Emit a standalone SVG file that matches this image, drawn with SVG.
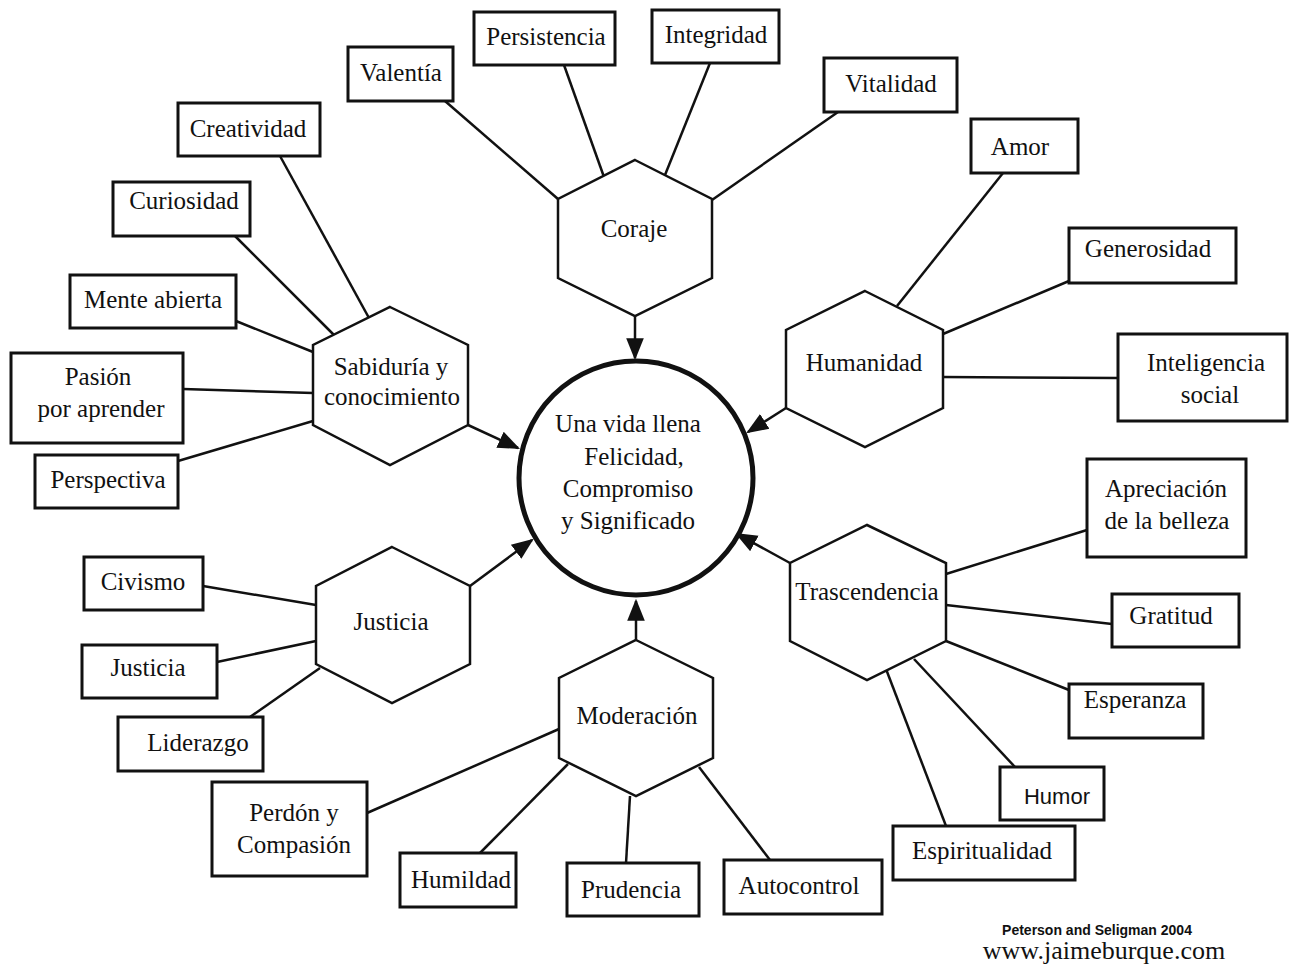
<svg xmlns="http://www.w3.org/2000/svg" width="1297" height="965" viewBox="0 0 1297 965">
<defs>
<style>
.box{fill:#fff;stroke:#111;stroke-width:3}
.hex{fill:#fff;stroke:#111;stroke-width:2.5}
.ln{stroke:#111;stroke-width:2.5;fill:none}
.t{font-family:"Liberation Serif","DejaVu Serif",serif;font-size:25px;fill:#111;text-anchor:middle}
.ts{font-family:"Liberation Sans Narrow","Liberation Sans",sans-serif;font-size:22px;fill:#111;text-anchor:middle}
</style>
<marker id="ahb" viewBox="0 0 10 10" refX="9" refY="5" markerWidth="22" markerHeight="22" markerUnits="userSpaceOnUse" orient="auto"><path d="M0,1 L10,5 L0,9 z" fill="#111"/></marker>
</defs>
<rect width="1297" height="965" fill="#fff"/>
<g id="connectors">
<line class="ln" x1="445" y1="101" x2="558" y2="199"/>
<line class="ln" x1="564" y1="65" x2="604" y2="177"/>
<line class="ln" x1="710" y1="63" x2="665" y2="175"/>
<line class="ln" x1="838" y1="112" x2="712" y2="200"/>
<line class="ln" x1="1003" y1="173" x2="897" y2="306"/>
<line class="ln" x1="1069" y1="281" x2="943" y2="334"/>
<line class="ln" x1="1118" y1="378" x2="943" y2="377"/>
<line class="ln" x1="1087" y1="530" x2="946" y2="574"/>
<line class="ln" x1="1112" y1="624" x2="946" y2="605"/>
<line class="ln" x1="1069" y1="690" x2="946" y2="641"/>
<line class="ln" x1="1015" y1="767" x2="914" y2="659"/>
<line class="ln" x1="946" y1="826" x2="886" y2="669"/>
<line class="ln" x1="770" y1="860" x2="699" y2="767"/>
<line class="ln" x1="626" y1="863" x2="630" y2="796"/>
<line class="ln" x1="480" y1="853" x2="568" y2="764"/>
<line class="ln" x1="367" y1="813" x2="559" y2="729"/>
<line class="ln" x1="250" y1="717" x2="320" y2="668"/>
<line class="ln" x1="217" y1="662" x2="316" y2="641"/>
<line class="ln" x1="203" y1="586" x2="316" y2="605"/>
<line class="ln" x1="178" y1="461" x2="313" y2="421"/>
<line class="ln" x1="183" y1="389" x2="313" y2="393"/>
<line class="ln" x1="236" y1="321" x2="313" y2="352"/>
<line class="ln" x1="235" y1="236" x2="334" y2="335"/>
<line class="ln" x1="280" y1="156" x2="369" y2="318"/>
<line class="ln" x1="635" y1="316" x2="635" y2="358" marker-end="url(#ahb)"/>
<line class="ln" x1="786" y1="408" x2="748" y2="432" marker-end="url(#ahb)"/>
<line class="ln" x1="790" y1="563" x2="737" y2="534" marker-end="url(#ahb)"/>
<line class="ln" x1="636" y1="640" x2="636" y2="601" marker-end="url(#ahb)"/>
<line class="ln" x1="470" y1="586" x2="532" y2="540" marker-end="url(#ahb)"/>
<line class="ln" x1="468" y1="425" x2="518" y2="448" marker-end="url(#ahb)"/>
</g>
<g id="center">
<circle cx="636" cy="478" r="117" fill="#fff" stroke="#111" stroke-width="5"/>
<text class="t" x="628" y="432">Una vida llena</text>
<text class="t" x="634" y="465">Felicidad,</text>
<text class="t" x="628" y="497">Compromiso</text>
<text class="t" x="628" y="529">y Significado</text>
</g>
<g id="hex-coraje">
<polygon class="hex" points="635,160 712,199 712,278 635,316 558,278 558,199"/>
<text class="t" x="634" y="237">Coraje</text>
</g>
<g id="hex-humanidad">
<polygon class="hex" points="865,291 943,330 943,408 865,447 786,408 786,330"/>
<text class="t" x="864" y="371">Humanidad</text>
</g>
<g id="hex-sabiduria">
<polygon class="hex" points="390,307 468,345 468,425 390,465 313,425 313,345"/>
<text class="t" x="391" y="375">Sabiduría y</text>
<text class="t" x="392" y="405">conocimiento</text>
</g>
<g id="hex-justicia">
<polygon class="hex" points="392,547 470,586 470,664 392,703 316,664 316,586"/>
<text class="t" x="391" y="630">Justicia</text>
</g>
<g id="hex-moderacion">
<polygon class="hex" points="636,640 713,678 713,758 636,796 559,758 559,678"/>
<text class="t" x="637" y="724">Moderación</text>
</g>
<g id="hex-trascendencia">
<polygon class="hex" points="867,525 946,563 946,641 867,680 790,641 790,563"/>
<text class="t" x="867" y="600">Trascendencia</text>
</g>
<g id="n-valentia"><rect class="box" x="348" y="47" width="105" height="54"/><text class="t" x="401" y="81">Valentía</text></g>
<g id="n-persistencia"><rect class="box" x="474" y="12" width="141" height="53"/><text class="t" x="546" y="45">Persistencia</text></g>
<g id="n-integridad"><rect class="box" x="652" y="10" width="127" height="53"/><text class="t" x="716" y="43">Integridad</text></g>
<g id="n-vitalidad"><rect class="box" x="824" y="58" width="133" height="54"/><text class="t" x="891" y="92">Vitalidad</text></g>
<g id="n-amor"><rect class="box" x="971" y="119" width="107" height="54"/><text class="t" x="1020" y="155">Amor</text></g>
<g id="n-generosidad"><rect class="box" x="1069" y="228" width="167" height="55"/><text class="t" x="1148" y="257">Generosidad</text></g>
<g id="n-inteligencia"><rect class="box" x="1118" y="334" width="169" height="87"/><text class="t" x="1206" y="371">Inteligencia</text><text class="t" x="1210" y="403">social</text></g>
<g id="n-apreciacion"><rect class="box" x="1087" y="459" width="159" height="98"/><text class="t" x="1166" y="497">Apreciación</text><text class="t" x="1167" y="529">de la belleza</text></g>
<g id="n-gratitud"><rect class="box" x="1112" y="594" width="127" height="53"/><text class="t" x="1171" y="624">Gratitud</text></g>
<g id="n-esperanza"><rect class="box" x="1069" y="684" width="134" height="54"/><text class="t" x="1135" y="708">Esperanza</text></g>
<g id="n-humor"><rect class="box" x="1000" y="767" width="104" height="53"/><text class="ts" x="1057" y="804">Humor</text></g>
<g id="n-espiritualidad"><rect class="box" x="893" y="826" width="182" height="54"/><text class="t" x="982" y="859">Espiritualidad</text></g>
<g id="n-autocontrol"><rect class="box" x="724" y="860" width="158" height="54"/><text class="t" x="799" y="894">Autocontrol</text></g>
<g id="n-prudencia"><rect class="box" x="567" y="863" width="132" height="53"/><text class="t" x="631" y="898">Prudencia</text></g>
<g id="n-humildad"><rect class="box" x="400" y="853" width="116" height="54"/><text class="t" x="461" y="888">Humildad</text></g>
<g id="n-perdon"><rect class="box" x="212" y="782" width="155" height="94"/><text class="t" x="294" y="821">Perdón y</text><text class="t" x="294" y="853">Compasión</text></g>
<g id="n-liderazgo"><rect class="box" x="118" y="717" width="145" height="54"/><text class="t" x="198" y="751">Liderazgo</text></g>
<g id="n-justicia"><rect class="box" x="82" y="645" width="135" height="53"/><text class="t" x="148" y="676">Justicia</text></g>
<g id="n-civismo"><rect class="box" x="84" y="557" width="119" height="53"/><text class="t" x="143" y="590">Civismo</text></g>
<g id="n-perspectiva"><rect class="box" x="35" y="455" width="143" height="53"/><text class="t" x="108" y="488">Perspectiva</text></g>
<g id="n-pasion"><rect class="box" x="11" y="353" width="172" height="90"/><text class="t" x="98" y="385">Pasión</text><text class="t" x="101" y="417">por aprender</text></g>
<g id="n-mente"><rect class="box" x="70" y="275" width="166" height="53"/><text class="t" x="153" y="308">Mente abierta</text></g>
<g id="n-curiosidad"><rect class="box" x="113" y="182" width="137" height="54"/><text class="t" x="184" y="209">Curiosidad</text></g>
<g id="n-creatividad"><rect class="box" x="178" y="103" width="142" height="53"/><text class="t" x="248" y="137">Creatividad</text></g>
<g id="footer">
<text x="1097" y="935" style="font-family:'Liberation Sans Narrow','Liberation Sans',sans-serif;font-size:14px;font-weight:bold;fill:#111;text-anchor:middle">Peterson and Seligman 2004</text>
<text x="1104" y="959" style="font-family:'Liberation Serif','DejaVu Serif',serif;font-size:26px;fill:#111;text-anchor:middle">www.jaimeburque.com</text>
</g>
</svg>
